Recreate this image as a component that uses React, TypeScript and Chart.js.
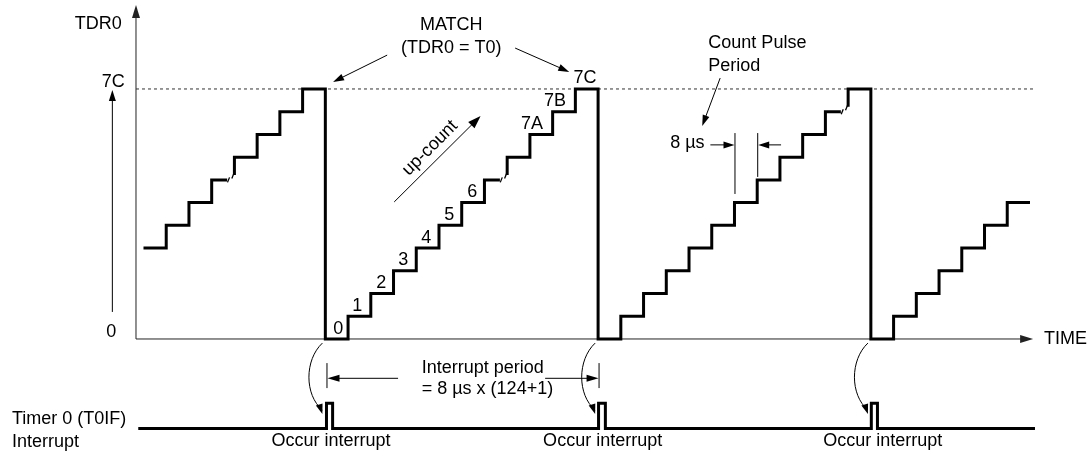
import React, { useEffect, useRef } from 'react';
import { Chart, registerables } from 'chart.js';

Chart.register(...registerables);

// ---------------- data (time unit = one 8 µs count pulse, level = counter step) ----------------
const countTimes = [0, 1, 2, 3, 4, 5, 6, 7, 8, 9, 10, 11, 12, 13, 14, 15, 16, 17, 18, 19, 20, 21, 22, 23, 24, 25, 26, 27, 28, 29, 30, 31, 32, 33, 34, 35, 36, 37, 38];
const tdr0Levels = [4, 5, 6, 7, 8, 9, 10, 11, 0, 1, 2, 3, 4, 5, 6, 7, 8, 9, 10, 11, 0, 1, 2, 3, 4, 5, 6, 7, 8, 9, 10, 11, 0, 1, 2, 3, 4, 5, 6];
const traceEndTime = 39;
const omittedSteps = [3, 15, 30];
const matchLevel = 11; // 7C
const matchTimes = [8, 20, 32];
const interruptTimes = [-0.23, 8.05, 8.32, 20.02, 20.32, 32.02, 32.29, 39.22];
const interruptLevels = [0, 1, 0, 1, 0, 1, 0, 0];
const countLabels = ['0', '1', '2', '3', '4', '5', '6', '7A', '7B', '7C'];
const countLabelLevels = [0, 1, 2, 3, 4, 5, 6, 9, 10, 11];
const countLabelCycleStart = 8;
const yAxisLabels = ['0', '7C'];
const yAxisLevels = [0, 11];

// ---------------- layout ----------------
const X_MIN = -6.313;
const X_MAX = 41.597;
const Y_MIN = -5.148;
const Y_MAX = 14.914;
const INT_MIN = -1.091;
const INT_MAX = 17.004;
const AXIS_T = -0.33;
const FONT = '18px "Liberation Sans", Arial, Helvetica, sans-serif';
const labelDx = [0.57, 0.4, 0.46, 0.43, 0.44, 0.45, 0.46, 0.09, 0.1, 0.42];

function arrow(ctx: CanvasRenderingContext2D, x1: number, y1: number, x2: number, y2: number, len = 10, half = 3.5, lw = 1, color = '#000') {
  const a = Math.atan2(y2 - y1, x2 - x1);
  const c = Math.cos(a), s = Math.sin(a);
  ctx.save();
  ctx.strokeStyle = color;
  ctx.fillStyle = color;
  ctx.lineWidth = lw;
  ctx.beginPath();
  ctx.moveTo(x1, y1);
  ctx.lineTo(x2 - c * len * 0.7, y2 - s * len * 0.7);
  ctx.stroke();
  ctx.beginPath();
  ctx.moveTo(x2, y2);
  ctx.lineTo(x2 - c * len - s * half, y2 - s * len + c * half);
  ctx.lineTo(x2 - c * len + s * half, y2 - s * len - c * half);
  ctx.closePath();
  ctx.fill();
  ctx.restore();
}

function line(ctx: CanvasRenderingContext2D, x1: number, y1: number, x2: number, y2: number, lw = 1, color = '#000') {
  ctx.save();
  ctx.strokeStyle = color;
  ctx.lineWidth = lw;
  ctx.beginPath();
  ctx.moveTo(x1, y1);
  ctx.lineTo(x2, y2);
  ctx.stroke();
  ctx.restore();
}

function text(ctx: CanvasRenderingContext2D, s: string, x: number, y: number, align: CanvasTextAlign = 'center') {
  ctx.save();
  ctx.font = FONT;
  ctx.fillStyle = '#000';
  ctx.textAlign = align;
  ctx.textBaseline = 'middle';
  ctx.fillText(s, x, y);
  ctx.restore();
}

const diagramPlugin = {
  id: 'diagram',
  beforeDatasetsDraw(chart: any) {
    const { ctx, scales } = chart;
    const X = (v: number) => scales.x.getPixelForValue(v);
    const Y = (v: number) => scales.y.getPixelForValue(v);
    arrow(ctx, X(AXIS_T), Y(0), X(AXIS_T), Y(14.69), 13, 4, 1, '#222');
    arrow(ctx, X(AXIS_T), Y(0), X(39.14), Y(0), 13, 4, 1, '#222');
  },
  afterDatasetsDraw(chart: any) {
    const { ctx, scales } = chart;
    const X = (v: number) => scales.x.getPixelForValue(v);
    const Y = (v: number) => scales.y.getPixelForValue(v);

    text(ctx, 'TDR0', X(-1.99), Y(13.86));
    yAxisLabels.forEach((s, i) => text(ctx, s, X(i === 0 ? -1.42 : -1.33), Y(yAxisLevels[i] + 0.3)));
    arrow(ctx, X(-1.37), Y(1.19), X(-1.37), Y(10.95), 11, 3.5, 1);

    text(ctx, 'TIME', X(39.62), Y(0), 'left');

    text(ctx, 'MATCH', X(13.54), Y(13.81));
    text(ctx, '(TDR0 = T0)', X(13.54), Y(12.8));
    arrow(ctx, X(10.72), Y(12.49), X(8.34), Y(matchLevel + 0.31), 11, 3.5, 1);
    arrow(ctx, X(16.35), Y(12.8), X(18.73), Y(matchLevel + 0.75), 11, 3.5, 1);

    countLabels.forEach((s, i) => {
      const L = countLabelLevels[i];
      text(ctx, s, X(countLabelCycleStart + L + labelDx[i]), Y(L + 0.46));
    });

    arrow(ctx, X(11.03), Y(6.03), X(14.83), Y(9.81), 13, 4.5, 1);
    ctx.save();
    ctx.translate(X(12.61), Y(8.4));
    ctx.rotate(-Math.PI / 4);
    text(ctx, 'up-count', 0, 0);
    ctx.restore();

    text(ctx, 'Count Pulse', X(24.85), Y(13.02), 'left');
    text(ctx, 'Period', X(24.85), Y(12.01), 'left');
    arrow(ctx, X(25.37), Y(11.48), X(24.58), Y(9.37), 11, 3.5, 1);
    text(ctx, '8 µs', X(23.17), Y(8.62), 'left');
    line(ctx, X(26) + 0.5, Y(9.06), X(26) + 0.5, Y(6.38), 1);
    line(ctx, X(27) + 0.5, Y(9.06), X(27) + 0.5, Y(7.13), 1);
    arrow(ctx, X(24.94), Y(8.54), X(26), Y(8.54), 11, 3.5, 1);
    arrow(ctx, X(28.05), Y(8.54), X(27) + 1, Y(8.54), 11, 3.5, 1);

    omittedSteps.forEach((t) => {
      const L = tdr0Levels[countTimes.indexOf(t)];
      const a = [X(t + 0.74), Y(L)];
      const b = [X(t + 0.93), Y(L + 0.17)];
      [a, b].forEach(([px, py]) => line(ctx, px - 1, py + 2.5, px + 1, py - 2.5, 1.3));
    });

    matchTimes.forEach((td) => {
      const p0 = [X(td - 0.13), Y(-0.18)];
      const c1 = [X(td - 0.92), Y(-0.92)];
      const c2 = [X(td - 0.92), Y(-2.46)];
      const p3 = [X(td - 0.13), Y(-3.3)];
      ctx.save();
      ctx.strokeStyle = '#000';
      ctx.lineWidth = 1;
      ctx.beginPath();
      ctx.moveTo(p0[0], p0[1]);
      ctx.bezierCurveTo(c1[0], c1[1], c2[0], c2[1], p3[0], p3[1] - 4);
      ctx.stroke();
      ctx.restore();
      arrow(ctx, p3[0] - 2, p3[1] - 6, p3[0], p3[1], 10, 3.5, 1);
    });

    const tA = interruptTimes[1];
    const tB = interruptTimes[3];
    line(ctx, X(tA) + 0.5, Y(-1.06), X(tA) + 0.5, Y(-2.16), 1);
    line(ctx, X(tB) + 0.5, Y(-1.06), X(tB) + 0.5, Y(-2.16), 1);
    arrow(ctx, X(11.2), Y(-1.73), X(tA) + 1, Y(-1.73), 12, 3.5, 1);
    arrow(ctx, X(17.67), Y(-1.73), X(tB), Y(-1.73), 12, 3.5, 1);
    text(ctx, 'Interrupt period', X(12.24), Y(-1.28), 'left');
    text(ctx, '= 8 µs x (124+1)', X(12.24), Y(-2.2), 'left');

    text(ctx, 'Timer 0 (T0IF)', X(-5.785), Y(-3.54), 'left');
    text(ctx, 'Interrupt', X(-5.785), Y(-4.53), 'left');
    const occurDx = [0.25, 0.2, 0.52];
    matchTimes.forEach((td, i) => text(ctx, 'Occur interrupt', X(td + occurDx[i]), Y(-4.49)));
  },
};

function buildTrace() {
  const pts: { x: number; y: number | null }[] = [];
  countTimes.forEach((t, i) => {
    const L = tdr0Levels[i];
    pts.push({ x: t, y: L });
    if (omittedSteps.includes(t)) {
      pts.push({ x: t + 0.68, y: L });
      pts.push({ x: t + 0.84, y: null });
      pts.push({ x: t + 1, y: L + 0.22 });
    }
  });
  pts.push({ x: traceEndTime, y: tdr0Levels[tdr0Levels.length - 1] });
  return pts;
}

export default function App() {
  const ref = useRef<HTMLCanvasElement>(null);
  useEffect(() => {
    document.body.style.margin = '0';
    document.documentElement.style.overflow = 'hidden';
    document.body.style.overflow = 'hidden';
    if (!ref.current) return;
    const chart = new Chart(ref.current, {
      type: 'line',
      data: {
        datasets: [
          {
            label: 'TDR0',
            data: buildTrace() as any,
            stepped: 'before',
            borderColor: '#000',
            borderWidth: 3,
            pointRadius: 0,
            spanGaps: false,
            fill: false,
            borderJoinStyle: 'miter',
            order: 0,
          },
          {
            label: 'Timer 0 (T0IF) Interrupt',
            data: interruptTimes.map((t, i) => ({ x: t, y: interruptLevels[i] })),
            stepped: 'before',
            borderColor: '#000',
            borderWidth: 3,
            pointRadius: 0,
            fill: false,
            yAxisID: 'yInt',
            borderJoinStyle: 'miter',
            order: 1,
          },
          {
            label: 'Match (7C)',
            data: [
              { x: AXIS_T, y: matchLevel },
              { x: 39.22, y: matchLevel },
            ],
            borderColor: '#333',
            borderWidth: 1,
            borderDash: [3, 3],
            pointRadius: 0,
            fill: false,
            order: 2,
          },
        ],
      },
      options: {
        responsive: false,
        animation: false,
        devicePixelRatio: 1,
        layout: { padding: 0 },
        plugins: { legend: { display: false }, tooltip: { enabled: false } },
        scales: {
          x: { type: 'linear', min: X_MIN, max: X_MAX, display: false },
          y: { type: 'linear', min: Y_MIN, max: Y_MAX, display: false },
          yInt: { type: 'linear', min: INT_MIN, max: INT_MAX, display: false },
        },
      },
      plugins: [diagramPlugin],
    });
    return () => chart.destroy();
  }, []);
  return (
    <div style={{ width: 1089, height: 456, overflow: 'hidden', background: '#fff' }}>
      <canvas ref={ref} width={1089} height={456} style={{ display: 'block' }} />
    </div>
  );
}
